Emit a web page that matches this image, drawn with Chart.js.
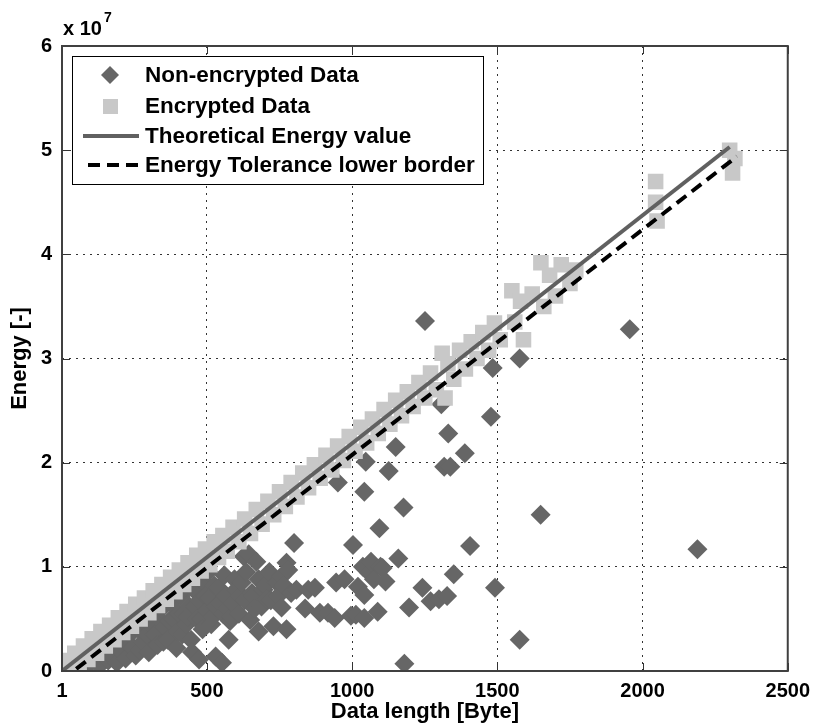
<!DOCTYPE html>
<html>
<head>
<meta charset="utf-8">
<script src="https://cdn.jsdelivr.net/npm/chart.js@4.4.1/dist/chart.umd.min.js"></script>
<style>
  html, body { margin: 0; padding: 0; background: #fff; }
</style>
</head>
<body>
<canvas id="energy-chart" width="818" height="728"></canvas>
<script>
// Energy is kept in units of 1e7 (axis shows "x 10^7")

// non-encrypted data (diamonds)
const nonEncLength = [1, 20, 40, 60, 80, 100,
  110, 130, 140, 150, 160, 170, 180, 190, 200,
  205, 210, 220, 225, 235, 245, 250, 255, 265, 270, 280, 290, 295, 300,
  310, 315, 320, 330, 335, 345, 350, 355, 365, 370, 375, 380, 385, 395, 400,
  405, 410, 415, 420, 425, 430, 435, 440, 445, 449, 455, 460, 465, 470, 473, 475, 480, 485, 490, 495, 500,
  505, 510, 515, 520, 525, 530, 530, 540, 545, 552, 555, 560, 565, 570, 575, 580, 585, 590, 595, 600,
  610, 615, 620, 627, 630, 635, 644, 649, 655, 660, 665, 670, 678, 678, 688, 695,
  700, 705, 715, 720, 729, 740, 745, 757, 757, 765, 774, 774, 780, 790, 800, 808,
  838, 849, 872, 889, 917, 940, 945, 951, 974, 996, 1003,
  1013, 1020, 1037, 1042, 1042, 1042, 1047, 1059, 1065, 1075, 1088, 1094, 1098, 1105, 1115, 1126, 1150, 1159, 1177, 1180, 1196,
  1242, 1251, 1270, 1299, 1307, 1317, 1327, 1331, 1338, 1350, 1388, 1406, 1478, 1484, 1492, 1577, 1577, 1649, 1956, 2189];
const nonEncEnergy = [0.00, 0.02, 0.03, 0.05, 0.04, 0.08,
  0.12, 0.05, 0.20, 0.18, 0.10, 0.15, 0.25, 0.08, 0.20,
  0.38, 0.30, 0.12, 0.28, 0.35, 0.22, 0.45, 0.15, 0.40, 0.20, 0.28, 0.45, 0.35, 0.18,
  0.52, 0.42, 0.35, 0.25, 0.50, 0.60, 0.28, 0.42, 0.30, 0.48, 0.65, 0.72, 0.50, 0.22, 0.38,
  0.55, 0.72, 0.35, 0.55, 0.80, 0.45, 0.52, 0.62, 0.30, 0.18, 0.78, 0.62, 0.50, 0.90, 0.11, 0.68, 0.50, 0.40, 0.85, 0.72, 0.58,
  0.95, 0.70, 0.45, 0.52, 0.82, 0.14, 0.62, 0.80, 0.65, 0.08, 0.55, 0.92, 0.72, 0.60, 0.30, 0.48, 0.52, 0.65, 0.88, 0.78,
  0.55, 0.72, 0.85, 1.10, 0.68, 0.95, 1.12, 0.49, 0.75, 0.72, 0.60, 1.05, 0.88, 0.38, 0.62, 0.78,
  0.82, 0.69, 0.95, 0.68, 0.43, 0.85, 0.72, 0.91, 0.61, 0.82, 1.04, 0.40, 0.97, 0.75, 1.23, 0.78,
  0.60, 0.78, 0.80, 0.56, 0.56, 0.51, 0.85, 1.81, 0.88, 0.53, 1.21,
  0.54, 0.81, 1.00, 0.73, 0.51, 1.72, 2.01, 0.94, 1.05, 0.88, 0.57, 1.37, 1.00, 0.99, 0.86, 1.92, 2.15, 1.08, 1.57, 0.07, 0.61,
  0.80, 3.36, 0.67, 0.69, 2.56, 1.96, 0.72, 2.28, 1.96, 0.93, 2.09, 1.20, 2.44, 2.91, 0.80, 3.00, 0.30, 1.50, 3.28, 1.17];

// encrypted data (squares)
const encLength = [1, 15, 30, 45, 60, 75, 90, 105, 120, 135, 150, 165, 180, 195, 210, 225, 240, 255, 270, 285,
  300, 315, 330, 345, 360, 375, 390, 405, 420, 435, 450, 465, 480, 495, 510, 525, 540, 555, 570, 590,
  610, 630, 650, 670, 690, 710, 730, 750, 770, 790, 810, 830, 850, 870, 890, 910, 930, 950, 970, 990,
  1010, 1030, 1050, 1070, 1090, 1110, 1130, 1150, 1170, 1190, 1210, 1230, 1250, 1270, 1290, 1310, 1320, 1330, 1350, 1370,
  1390, 1410, 1430, 1450, 1470, 1490, 1510, 1550, 1560, 1580, 1590, 1620, 1650, 1660, 1680, 1700, 1720, 1750, 1770,
  2045, 2045, 2050, 2300, 2310, 2318];
const encEnergy = [0.00, 0.10, 0.02, 0.17, 0.05, 0.24, 0.11, 0.31, 0.17, 0.38, 0.24, 0.44, 0.30, 0.51, 0.37, 0.57, 0.43, 0.64, 0.50, 0.70,
  0.56, 0.77, 0.63, 0.83, 0.69, 0.90, 0.76, 0.97, 0.83, 1.04, 0.89, 1.11, 0.96, 1.17, 1.02, 1.24, 1.09, 1.30, 1.15, 1.38,
  1.24, 1.46, 1.32, 1.55, 1.41, 1.63, 1.50, 1.72, 1.58, 1.81, 1.67, 1.90, 1.76, 1.98, 1.85, 2.07, 1.93, 2.16, 2.02, 2.25,
  2.11, 2.34, 2.19, 2.42, 2.28, 2.51, 2.37, 2.60, 2.45, 2.68, 2.54, 2.77, 2.62, 2.86, 2.70, 3.05, 2.62, 2.95, 2.80, 3.08,
  2.90, 3.16, 3.00, 3.25, 3.08, 3.34, 3.18, 3.65, 3.35, 3.55, 3.18, 3.62, 3.92, 3.50, 3.80, 3.60, 3.90, 3.72, 3.85,
  4.70, 4.50, 4.32, 5.00, 4.78, 4.92];

// reference lines
const theoLength = [1, 2300];
const theoEnergy = [0.00, 5.03];
const tolLength = [50, 2325];
const tolEnergy = [0.02, 4.94];

const xTicks = [1, 500, 1000, 1500, 2000, 2500];
const yTicks = [0, 1, 2, 3, 4, 5, 6];

const FONT = "'Liberation Sans', Arial, sans-serif";

function toPoints(xs, ys) {
  return xs.map((x, i) => ({ x: x, y: ys[i] }));
}

// box, inward ticks, exponent and legend (MATLAB look)
const matlabFrame = {
  id: 'matlabFrame',
  afterDatasetsDraw(chart) {
    const ctx = chart.ctx;
    const a = chart.chartArea;
    const xs = chart.scales.x;
    const ys = chart.scales.y;
    ctx.save();

    // inward ticks on all four sides
    ctx.strokeStyle = '#333';
    ctx.lineWidth = 1;
    const tl = 8;
    ctx.beginPath();
    xTicks.forEach(v => {
      const px = Math.round(xs.getPixelForValue(v)) + 0.5;
      ctx.moveTo(px, a.bottom); ctx.lineTo(px, a.bottom - tl);
      ctx.moveTo(px, a.top); ctx.lineTo(px, a.top + tl);
    });
    yTicks.forEach(v => {
      const py = Math.round(ys.getPixelForValue(v)) + 0.5;
      ctx.moveTo(a.left, py); ctx.lineTo(a.left + tl, py);
      ctx.moveTo(a.right, py); ctx.lineTo(a.right - tl, py);
    });
    ctx.stroke();

    // axes box
    ctx.strokeStyle = '#404040';
    ctx.lineWidth = 2;
    ctx.strokeRect(a.left, a.top, a.right - a.left, a.bottom - a.top);

    // exponent label
    ctx.fillStyle = '#000';
    ctx.textBaseline = 'middle';
    ctx.textAlign = 'left';
    ctx.font = 'bold 20px ' + FONT;
    ctx.fillText('x 10', 63, 29);
    ctx.font = 'bold 14px ' + FONT;
    ctx.fillText('7', 104, 18);

    // legend
    const lg = { x: 72.5, y: 56.5, w: 411, h: 128 };
    ctx.fillStyle = '#fff';
    ctx.fillRect(lg.x, lg.y, lg.w, lg.h);
    ctx.strokeStyle = '#000';
    ctx.lineWidth = 1;
    ctx.strokeRect(lg.x, lg.y, lg.w, lg.h);

    const rows = [75, 106, 136, 165];
    const ds = chart.data.datasets;
    // diamond
    ctx.fillStyle = ds[0].backgroundColor;
    ctx.beginPath();
    ctx.moveTo(110, rows[0] - 9); ctx.lineTo(119, rows[0]);
    ctx.lineTo(110, rows[0] + 9); ctx.lineTo(101, rows[0]);
    ctx.closePath(); ctx.fill();
    // square
    ctx.fillStyle = ds[1].backgroundColor;
    ctx.fillRect(103, rows[1] - 7, 15, 15);
    // solid line
    ctx.strokeStyle = ds[2].borderColor;
    ctx.lineWidth = ds[2].borderWidth;
    ctx.beginPath(); ctx.moveTo(83, rows[2]); ctx.lineTo(139, rows[2]); ctx.stroke();
    // dashed line
    ctx.strokeStyle = ds[3].borderColor;
    ctx.lineWidth = ds[3].borderWidth;
    ctx.setLineDash(ds[3].borderDash);
    ctx.beginPath(); ctx.moveTo(88, rows[3]); ctx.lineTo(139, rows[3]); ctx.stroke();
    ctx.setLineDash([]);

    ctx.fillStyle = '#000';
    ctx.font = 'bold 22.5px ' + FONT;
    ctx.textBaseline = 'middle';
    ds.forEach((d, i) => ctx.fillText(d.label, 145, rows[i] + 1));

    ctx.restore();
  }
};

const ctx = document.getElementById('energy-chart').getContext('2d');
const energyChart = new Chart(ctx, {
  type: 'scatter',
  data: {
    datasets: [
      {
        label: 'Non-encrypted Data',
        data: toPoints(nonEncLength, nonEncEnergy),
        pointStyle: 'rectRot',
        pointRadius: 10,
        pointBorderWidth: 0,
        backgroundColor: '#666666',
        borderColor: '#666666',
        order: 3
      },
      {
        label: 'Encrypted Data',
        data: toPoints(encLength, encEnergy),
        pointStyle: 'rect',
        pointRadius: 11,
        pointBorderWidth: 0,
        backgroundColor: '#c8c8c8',
        borderColor: '#c8c8c8',
        order: 2
      },
      {
        type: 'line',
        label: 'Theoretical Energy value',
        data: toPoints(theoLength, theoEnergy),
        borderColor: '#606060',
        borderWidth: 4,
        pointRadius: 0,
        fill: false,
        order: 1
      },
      {
        type: 'line',
        label: 'Energy Tolerance lower border',
        data: toPoints(tolLength, tolEnergy),
        borderColor: '#000000',
        borderWidth: 4,
        borderDash: [12, 7],
        pointRadius: 0,
        fill: false,
        order: 0
      }
    ]
  },
  options: {
    responsive: false,
    animation: false,
    layout: { padding: { top: 46, right: 25, left: 0, bottom: 0 } },
    plugins: {
      legend: { display: false },
      tooltip: { enabled: false }
    },
    scales: {
      x: {
        type: 'linear',
        min: 1,
        max: 2500,
        afterBuildTicks: s => { s.ticks = xTicks.map(v => ({ value: v })); },
        afterFit: s => { s.height = 57; },
        ticks: {
          padding: 8,
          color: '#000',
          font: { family: FONT, size: 20, weight: 'bold' },
          maxRotation: 0,
          callback: v => String(v)
        },
        grid: { color: '#333', lineWidth: 1, drawTicks: false },
        border: { display: false, dash: [2, 5] },
        title: {
          display: true,
          text: 'Data length [Byte]',
          color: '#000',
          font: { family: FONT, size: 22, weight: 'bold' },
          padding: { top: 0, bottom: 3 }
        }
      },
      y: {
        min: 0,
        max: 6,
        afterBuildTicks: s => { s.ticks = yTicks.map(v => ({ value: v })); },
        afterFit: s => { s.width = 62; },
        ticks: {
          padding: 10,
          color: '#000',
          font: { family: FONT, size: 20, weight: 'bold' },
          callback: v => String(v)
        },
        grid: { color: '#333', lineWidth: 1, drawTicks: false },
        border: { display: false, dash: [2, 5] },
        title: {
          display: true,
          text: 'Energy [-]',
          color: '#000',
          font: { family: FONT, size: 22, weight: 'bold' },
          padding: { top: 7, bottom: 0 }
        }
      }
    }
  },
  plugins: [matlabFrame]
});
</script>
</body>
</html>
